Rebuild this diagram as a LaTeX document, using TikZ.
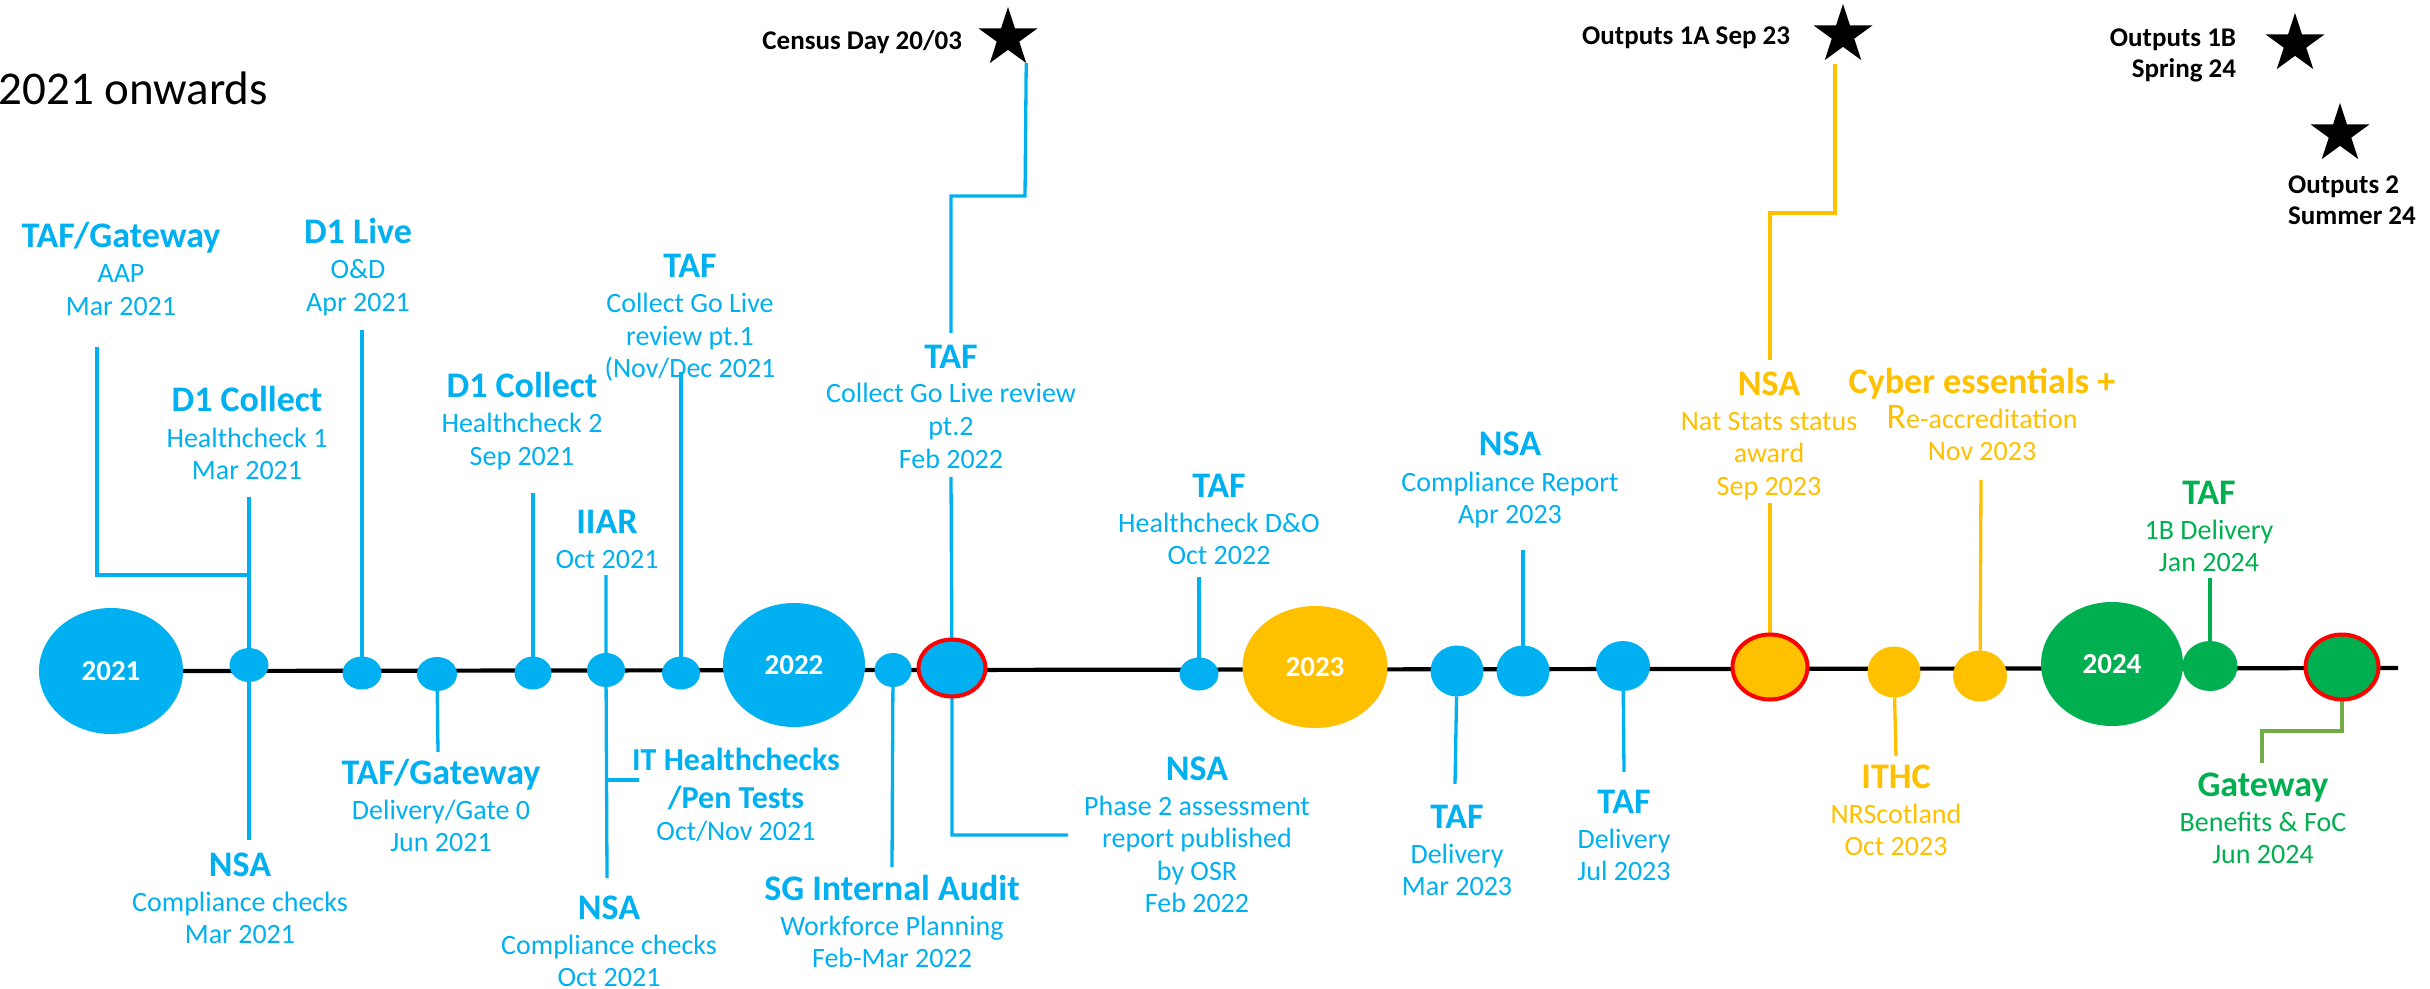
\documentclass[tikz,border=0pt]{standalone}
\usepackage{fontspec}
\setmainfont{Carlito}
\usetikzlibrary{shapes.geometric,backgrounds}

\definecolor{tlblue}{HTML}{00B0F0}
\definecolor{tlyellow}{HTML}{FFC000}
\definecolor{tlgreen}{HTML}{00B050}
\definecolor{tlolive}{HTML}{70AD47}
\definecolor{tlred}{HTML}{FF0000}

% bold first line of an event label, with a fixed-height strut on top
\newcommand\evhead[1]{\rule{0pt}{13.5pt}{\fontsize{18}{18}\selectfont\bfseries #1}}
\newcommand\evheadsm[1]{\rule{0pt}{12pt}{\fontsize{16}{16}\selectfont\bfseries #1}}

\begin{document}
\begin{tikzpicture}[x=0.5pt,y=-0.5pt,
  every node/.style={inner sep=0pt,outer sep=0pt},
  ev/.style={align=center,anchor=north,font=\fontsize{14}{16.25}\selectfont},
  blueev/.style={ev,text=tlblue},
  yellowev/.style={ev,text=tlyellow},
  greenev/.style={ev,text=tlgreen},
  dot/.style={ellipse,inner sep=0pt},
  yearnode/.style={ellipse,text=white,font=\fontsize{14.5}{14.5}\selectfont\bfseries},
  ring/.style={draw=tlred,line width=2pt},
  conn/.style={line width=1.65pt},
  mstar/.style={star,star points=5,star point ratio=2.618,fill=black,minimum size=31pt},
  starlbl/.style={text=black,font=\fontsize{13.5}{15.5}\selectfont\bfseries}]

\useasboundingbox (0,0) rectangle (2430,989);

% heading
\node[anchor=base east,font=\fontsize{23.5}{28}\selectfont] (title) at (268,105) {2021 onwards};

% year markers
\node[yearnode,fill=tlblue,minimum width=72pt,minimum height=63pt] (y21) at (111,671) {2021};
\node[yearnode,fill=tlblue,minimum width=71pt,minimum height=62pt] (y22) at (794,665) {2022};
\node[yearnode,fill=tlyellow,minimum width=72.5pt,minimum height=61pt] (y23) at (1315,667) {2023};
\node[yearnode,fill=tlgreen,minimum width=71pt,minimum height=62pt] (y24) at (2112,664) {2024};

% event dots
\node[dot,fill=tlblue,minimum width=19.5pt,minimum height=17pt] (d1) at (249,665) {};
\node[dot,fill=tlblue,minimum width=19.5pt,minimum height=16.5pt] (d2) at (362,673) {};
\node[dot,fill=tlblue,minimum width=20pt,minimum height=17pt] (d3) at (437,674) {};
\node[dot,fill=tlblue,minimum width=18.5pt,minimum height=16.5pt] (d4) at (533,673) {};
\node[dot,fill=tlblue,minimum width=19pt,minimum height=17pt] (d5) at (606,670) {};
\node[dot,fill=tlblue,minimum width=19pt,minimum height=16.5pt] (d6) at (681,673) {};
\node[dot,fill=tlblue,minimum width=18.5pt,minimum height=17pt] (d7) at (893,670) {};
\node[dot,fill=tlblue,ring,minimum width=33.5pt,minimum height=28.5pt] (r1) at (952,668) {};
\node[dot,fill=tlblue,minimum width=19.5pt,minimum height=16.5pt] (d8) at (1199,674) {};
\node[dot,fill=tlblue,minimum width=26.5pt,minimum height=25.5pt] (d9) at (1457,671) {};
\node[dot,fill=tlblue,minimum width=26.5pt,minimum height=25.5pt] (d10) at (1523,671) {};
\node[dot,fill=tlblue,minimum width=27pt,minimum height=25pt] (d11) at (1623,666) {};
\node[dot,fill=tlyellow,ring,minimum width=37.5pt,minimum height=32.5pt] (ry) at (1770,667) {};
\node[dot,fill=tlyellow,minimum width=26.5pt,minimum height=25.5pt] (yd1) at (1894,672) {};
\node[dot,fill=tlyellow,minimum width=27pt,minimum height=25.5pt] (yd2) at (1980,676) {};
\node[dot,fill=tlgreen,minimum width=27.5pt,minimum height=25pt] (gd1) at (2210,666) {};
\node[dot,fill=tlgreen,ring,minimum width=36.5pt,minimum height=32.5pt] (rg) at (2342,667) {};

% milestone stars
\node[mstar] (s1) at (1008,38) {};
\node[starlbl,anchor=base east] (t1) at (962,50) {Census Day 20/03};
\node[mstar] (s2) at (1843,35) {};
\node[starlbl,anchor=base east] (t2) at (1790,45) {Outputs 1A Sep 23};
\node[mstar] (s3) at (2295,44) {};
\node[starlbl,align=right,anchor=north east] (t3) at (2236,26) {\rule{0pt}{10.125pt}Outputs 1B\\Spring 24};
\node[mstar] (s4) at (2340,134) {};
\node[starlbl,align=left,anchor=north west] (t4) at (2288,173) {\rule{0pt}{10.125pt}Outputs 2\\Summer 24};

% labels above the line
\node[blueev] (a1) at (121,221) {\evhead{TAF/Gateway}\\[1.25pt]AAP\\Mar 2021};
\node[blueev] (a2) at (247,385) {\evhead{D1 Collect}\\[1.25pt]Healthcheck 1\\Mar 2021};
\node[blueev] (a3) at (358,217) {\evhead{D1 Live}\\[1.25pt]O\&D\\Apr 2021};
\node[blueev] (a4) at (522,371) {\evhead{D1 Collect}\\[1.25pt]Healthcheck 2\\Sep 2021};
\node[blueev] (a5) at (607,506) {\evhead{IIAR}\\[1.25pt]Oct 2021};
\node[blueev] (a6) at (690,251) {\evhead{TAF}\\[1.25pt]Collect Go Live\\review pt.1\\(Nov/Dec 2021};
\node[blueev] (a7) at (951,341) {\evhead{TAF}\\[1.25pt]Collect Go Live review\\pt.2\\Feb 2022};
\node[blueev] (a8) at (1219,470) {\evhead{TAF}\\[1.25pt]Healthcheck D\&O\\Oct 2022};
\node[blueev] (a9) at (1510,429) {\evhead{NSA}\\[1.25pt]Compliance Report\\Apr 2023};
\node[yellowev] (a10) at (1769,368) {\evhead{NSA}\\[1.25pt]Nat Stats status\\award\\Sep 2023};
\node[yellowev] (a11) at (1982,366) {\evhead{Cyber essentials +}\\[1.25pt]{\fontsize{18}{18}\selectfont R}e-accreditation\\Nov 2023};
\node[greenev] (a12) at (2209,477) {\evhead{TAF}\\[1.25pt]1B Delivery\\Jan 2024};

% labels below the line
\node[blueev] (b1) at (240,849) {\evhead{NSA}\\[1.25pt]Compliance checks\\Mar 2021};
\node[blueev] (b2) at (441,757) {\evhead{TAF/Gateway}\\[1.25pt]Delivery/Gate 0\\Jun 2021};
\node[blueev] (b3) at (736,746) {\evheadsm{IT Healthchecks}\\[2.75pt]{\fontsize{16}{16}\selectfont\bfseries /Pen Tests}\\[-0.25pt]Oct/Nov 2021};
\node[blueev] (b4) at (609,892) {\evhead{NSA}\\[1.25pt]Compliance checks\\Oct 2021};
\node[blueev] (b5) at (892,873) {\evhead{SG Internal Audit}\\[1.25pt]Workforce Planning\\Feb-Mar 2022};
\node[blueev] (b6) at (1197,753) {\evhead{NSA}\\[1.25pt]Phase 2 assessment\\report published\\by OSR\\Feb 2022};
\node[blueev] (b7) at (1457,801) {\evhead{TAF}\\[1.25pt]Delivery\\Mar 2023};
\node[blueev] (b8) at (1624,786) {\evhead{TAF}\\[1.25pt]Delivery\\Jul 2023};
\node[yellowev] (b9) at (1896,761) {\evhead{ITHC}\\[1.25pt]NRScotland\\Oct 2023};
\node[greenev] (b10) at (2263,769) {\evhead{Gateway}\\[1.25pt]Benefits \& FoC\\Jun 2024};

% connector end points next to the labels
\coordinate (c1a) at (97,347);   \coordinate (c1b) at (249,575);
\coordinate (c2a) at (249,497);  \coordinate (c2b) at (249,840);
\coordinate (c3a) at (362,330);
\coordinate (c4a) at (438,752);
\coordinate (c5a) at (533,493);
\coordinate (c6a) at (606,575);  \coordinate (c6b) at (607,878);
\coordinate (c6c) at (607,780);  \coordinate (c6d) at (639,780);
\coordinate (c7a) at (681,372);
\coordinate (c8a) at (951,477);  \coordinate (c8b) at (1068,835);
\coordinate (c8c) at (951,333);  \coordinate (c8d) at (1025,196);
\coordinate (c9a) at (892,867);
\coordinate (c10a) at (1199,577);
\coordinate (c11a) at (1523,550);
\coordinate (c12a) at (1455,784);
\coordinate (c13a) at (1624,772);
\coordinate (c14a) at (1770,503);
\coordinate (c15a) at (1770,360); \coordinate (c15b) at (1835,213); \coordinate (c15c) at (1835,64);
\coordinate (c16a) at (1981,480);
\coordinate (c17a) at (1896,756);
\coordinate (c18a) at (2210,578);
\coordinate (c19a) at (2262,731); \coordinate (c19b) at (2262,763);
\coordinate (tlend) at (2398,668);

\begin{pgfonlayer}{background}
  \fill[white] (0,0) rectangle (2430,989);
  % the timeline itself
  \draw[line width=2.1pt] (y21.east) -- (tlend);
  % blue connectors
  \draw[conn,tlblue] (c1a) |- (c1b);
  \draw[conn,tlblue] (c2a) -- (d1) -- (c2b);
  \draw[conn,tlblue] (c3a) -- (d2);
  \draw[conn,tlblue] (d3) -- (c4a);
  \draw[conn,tlblue] (c5a) -- (d4);
  \draw[conn,tlblue] (c6a) -- (d5) -- (c6b);
  \draw[conn,tlblue] (c6c) -- (c6d);
  \draw[conn,tlblue] (c7a) -- (d6);
  \draw[conn,tlblue] (c8a) -- (r1) |- (c8b);
  \draw[conn,tlblue] (c8c) |- (c8d) -- (s1.outer point 4);
  \draw[conn,tlblue] (d7) -- (c9a);
  \draw[conn,tlblue] (c10a) -- (d8);
  \draw[conn,tlblue] (c11a) -- (d10);
  \draw[conn,tlblue] (d9) -- (c12a);
  \draw[conn,tlblue] (d11) -- (c13a);
  % yellow connectors
  \draw[conn,tlyellow] (c14a) -- (ry);
  \draw[conn,tlyellow] (c15a) |- (c15b) -- (c15c);
  \draw[conn,tlyellow] (c16a) -- (yd2);
  \draw[conn,tlyellow] (yd1) -- (c17a);
  % green connectors
  \draw[conn,tlgreen] (c18a) -- (gd1);
  \draw[conn,tlolive] (rg) |- (c19a) -- (c19b);
\end{pgfonlayer}
\end{tikzpicture}
\end{document}
